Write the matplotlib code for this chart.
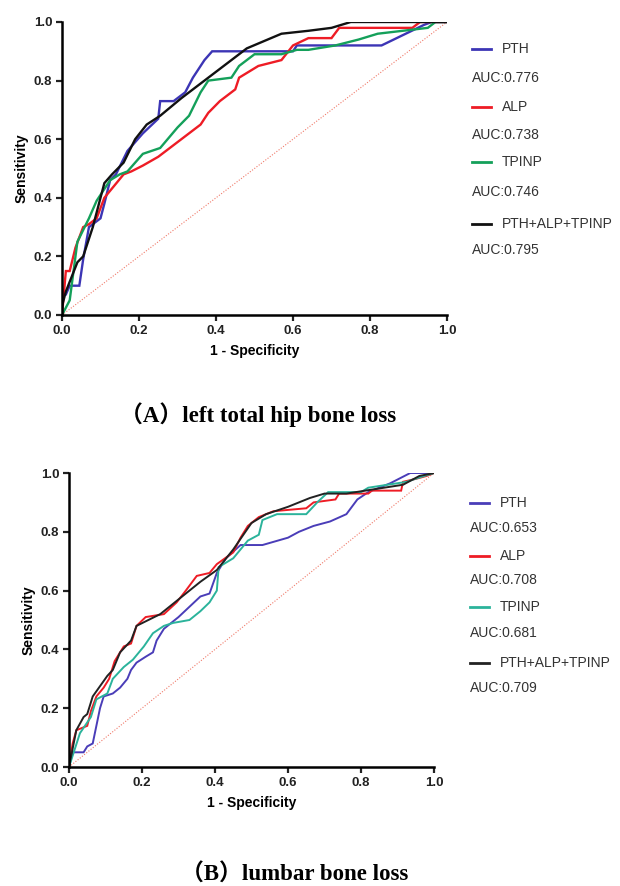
# ROC curves, two panels (left total hip / lumbar)
import matplotlib
matplotlib.use('Agg')
import matplotlib.pyplot as plt
from matplotlib.lines import Line2D

# ---- panel A : left total hip bone loss ----
a_pth_x = [0, 0, 0.01, 0.02, 0.045, 0.055, 0.07, 0.10, 0.11, 0.125, 0.14, 0.17, 0.21, 0.25, 0.255, 0.29, 0.32, 0.34, 0.37, 0.39, 0.60, 0.61, 0.83, 0.94, 0.96, 1.0]
a_pth_y = [0, 0.07, 0.07, 0.10, 0.10, 0.19, 0.30, 0.33, 0.38, 0.46, 0.48, 0.56, 0.62, 0.67, 0.73, 0.73, 0.76, 0.81, 0.87, 0.90, 0.90, 0.92, 0.92, 0.99, 1.0, 1.0]
a_alp_x = [0, 0.01, 0.02, 0.035, 0.055, 0.07, 0.09, 0.11, 0.16, 0.18, 0.21, 0.25, 0.31, 0.36, 0.38, 0.41, 0.45, 0.46, 0.51, 0.57, 0.60, 0.64, 0.70, 0.72, 0.91, 0.93, 1.0]
a_alp_y = [0, 0.15, 0.15, 0.23, 0.30, 0.31, 0.33, 0.40, 0.48, 0.49, 0.51, 0.54, 0.60, 0.65, 0.69, 0.73, 0.77, 0.81, 0.85, 0.87, 0.92, 0.945, 0.945, 0.98, 0.98, 1.0, 1.0]
a_tpinp_x = [0, 0.02, 0.04, 0.07, 0.09, 0.125, 0.15, 0.17, 0.21, 0.255, 0.30, 0.33, 0.36, 0.38, 0.44, 0.46, 0.50, 0.57, 0.61, 0.64, 0.71, 0.77, 0.82, 0.95, 0.97, 1.0]
a_tpinp_y = [0, 0.05, 0.25, 0.33, 0.39, 0.46, 0.48, 0.49, 0.55, 0.57, 0.64, 0.68, 0.76, 0.80, 0.81, 0.85, 0.89, 0.89, 0.905, 0.905, 0.92, 0.94, 0.96, 0.98, 1.0, 1.0]
a_comb_x = [0, 0, 0.01, 0.04, 0.055, 0.08, 0.11, 0.13, 0.16, 0.19, 0.22, 0.255, 0.31, 0.36, 0.40, 0.44, 0.48, 0.57, 0.64, 0.70, 0.75, 1.0]
a_comb_y = [0, 0.03, 0.08, 0.18, 0.20, 0.30, 0.45, 0.48, 0.52, 0.60, 0.65, 0.68, 0.74, 0.79, 0.83, 0.87, 0.91, 0.96, 0.97, 0.98, 1.0, 1.0]
a_auc = ['0.776', '0.738', '0.746', '0.795']

# ---- panel B : lumbar bone loss ----
b_pth_x = [0, 0.01, 0.04, 0.05, 0.065, 0.075, 0.085, 0.095, 0.12, 0.14, 0.16, 0.17, 0.185, 0.21, 0.23, 0.24, 0.26, 0.30, 0.33, 0.36, 0.385, 0.405, 0.43, 0.47, 0.53, 0.60, 0.63, 0.67, 0.715, 0.76, 0.79, 0.82, 0.88, 0.935, 1.0]
b_pth_y = [0, 0.05, 0.05, 0.07, 0.08, 0.14, 0.20, 0.24, 0.25, 0.27, 0.30, 0.33, 0.355, 0.375, 0.39, 0.43, 0.47, 0.51, 0.545, 0.58, 0.59, 0.66, 0.71, 0.755, 0.755, 0.78, 0.80, 0.82, 0.835, 0.86, 0.91, 0.935, 0.965, 1.0, 1.0]
b_alp_x = [0, 0.01, 0.02, 0.05, 0.06, 0.075, 0.095, 0.11, 0.125, 0.15, 0.17, 0.185, 0.21, 0.26, 0.295, 0.32, 0.35, 0.385, 0.405, 0.45, 0.47, 0.49, 0.52, 0.56, 0.65, 0.67, 0.73, 0.74, 0.82, 0.83, 0.91, 0.915, 0.95, 0.98, 1.0]
b_alp_y = [0, 0.08, 0.125, 0.14, 0.19, 0.24, 0.27, 0.30, 0.36, 0.41, 0.42, 0.48, 0.51, 0.52, 0.56, 0.60, 0.65, 0.66, 0.69, 0.73, 0.78, 0.82, 0.85, 0.87, 0.88, 0.90, 0.91, 0.93, 0.93, 0.94, 0.94, 0.97, 0.98, 0.99, 1.0]
b_tpinp_x = [0, 0.03, 0.06, 0.075, 0.105, 0.12, 0.15, 0.175, 0.205, 0.23, 0.26, 0.285, 0.33, 0.36, 0.385, 0.405, 0.41, 0.45, 0.49, 0.52, 0.53, 0.57, 0.65, 0.68, 0.71, 0.80, 0.82, 0.925, 0.96, 1.0]
b_tpinp_y = [0, 0.115, 0.17, 0.23, 0.25, 0.30, 0.34, 0.365, 0.41, 0.455, 0.48, 0.49, 0.50, 0.53, 0.56, 0.60, 0.68, 0.71, 0.77, 0.79, 0.84, 0.86, 0.86, 0.90, 0.935, 0.935, 0.95, 0.97, 0.985, 1.0]
b_comb_x = [0, 0.02, 0.04, 0.05, 0.065, 0.105, 0.12, 0.14, 0.17, 0.185, 0.25, 0.31, 0.36, 0.405, 0.45, 0.50, 0.54, 0.60, 0.66, 0.70, 0.76, 0.915, 0.96, 1.0]
b_comb_y = [0, 0.125, 0.17, 0.18, 0.24, 0.31, 0.33, 0.39, 0.43, 0.48, 0.52, 0.58, 0.63, 0.67, 0.74, 0.83, 0.86, 0.885, 0.915, 0.93, 0.93, 0.96, 0.99, 1.0]
b_auc = ['0.653', '0.708', '0.681', '0.709']

names = ['PTH', 'ALP', 'TPINP', 'PTH+ALP+TPINP']
ticks = [0.0, 0.2, 0.4, 0.6, 0.8, 1.0]
tick_labels = ['0.0', '0.2', '0.4', '0.6', '0.8', '1.0']

cols_a = ['#3c35b5', '#ee1c25', '#14a05a', '#111111']
cols_b = ['#4a3db8', '#ee1c25', '#2bb39b', '#222222']

W, H = 620, 886
fig = plt.figure(figsize=(6.2, 8.86), dpi=100)
fig.patch.set_facecolor('white')


def px(x0, y0, w, h):
    return [x0 / W, 1 - (y0 + h) / H, w / W, h / H]


def panel(ax, curves, cols, lw):
    ax.plot([0, 1], [0, 1], color='#f07a6a', lw=0.8, ls=(0, (1, 1.5)))
    for (xs, ys), c in zip(curves, cols):
        ax.plot(xs, ys, color=c, lw=lw, solid_joinstyle='miter')
    ax.set_xlim(0, 1)
    ax.set_ylim(0, 1)
    ax.set_xticks(ticks)
    ax.set_xticklabels(tick_labels)
    ax.set_yticks(ticks)
    ax.set_yticklabels(tick_labels)
    for s in ['top', 'right']:
        ax.spines[s].set_visible(False)
    for s in ['left', 'bottom']:
        ax.spines[s].set_linewidth(1.8)
    ax.tick_params(direction='out', length=4, width=1.6, labelsize=9.5, pad=3, colors='#222222')
    for t in ax.get_xticklabels() + ax.get_yticklabels():
        t.set_fontweight('bold')
        t.set_family('Liberation Sans')
    ax.set_xlabel('1 - Specificity', fontsize=10, fontweight='bold', family='Liberation Sans', labelpad=5)
    ax.set_ylabel('Sensitivity', fontsize=10, fontweight='bold', family='Liberation Sans', labelpad=4)


def legend(ys, auc, cols, x_line, x_txt):
    for i in range(4):
        yl = 1 - ys[2 * i] / H
        ya = 1 - ys[2 * i + 1] / H
        fig.lines.append(Line2D([x_line / W, (x_line + 19) / W], [yl, yl], color=cols[i], lw=2,
                                transform=fig.transFigure))
        fig.text(x_txt / W, yl, names[i], fontsize=10, va='center', color='#333333', family='Liberation Sans')
        fig.text(x_line / W, ya, 'AUC:' + auc[i], fontsize=10, va='center', color='#333333', family='Liberation Sans')


ax1 = fig.add_axes(px(62, 22, 385, 293))
panel(ax1, [(a_pth_x, a_pth_y), (a_alp_x, a_alp_y), (a_tpinp_x, a_tpinp_y), (a_comb_x, a_comb_y)], cols_a, 1.7)
legend([49, 78, 107, 135, 162, 192, 224, 250], a_auc, cols_a, 472, 502)

ax2 = fig.add_axes(px(69, 473, 365, 294))
panel(ax2, [(b_pth_x, b_pth_y), (b_alp_x, b_alp_y), (b_tpinp_x, b_tpinp_y), (b_comb_x, b_comb_y)], cols_b, 1.4)
legend([503, 528, 556, 580, 607, 633, 663, 688], b_auc, cols_b, 470, 500)

cap_font = ['Liberation Serif', 'Noto Sans CJK SC']
fig.text(258 / W, 1 - 415 / H, '（A）left total hip bone loss', fontsize=16.5, fontweight='bold',
         family=cap_font, ha='center', va='center')
fig.text(295 / W, 1 - 875 / H, '（B）lumbar bone loss', fontsize=16.5, fontweight='bold',
         family=cap_font, ha='center', va='center')

fig.savefig('out.png', dpi=100, facecolor='white')
